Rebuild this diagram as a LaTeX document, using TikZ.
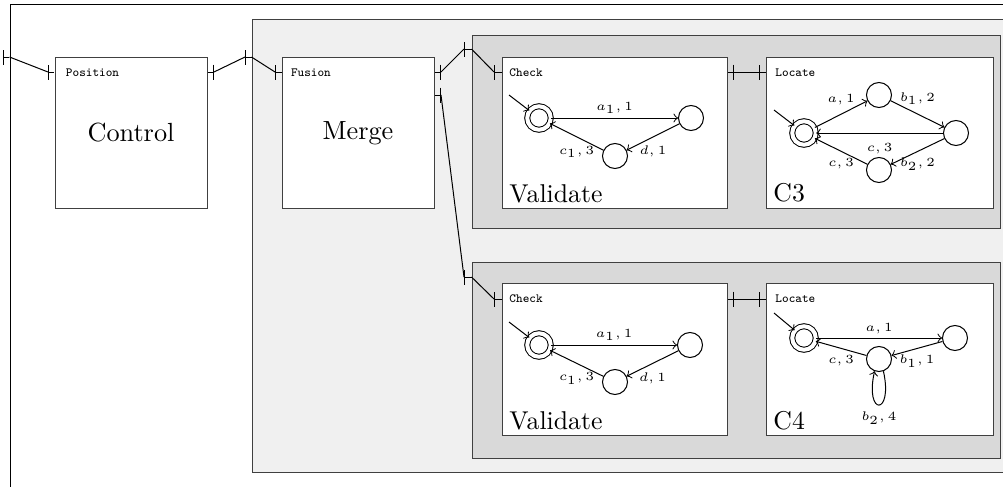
\documentclass[tikz,border=0pt]{standalone}
\usepackage{amsmath}
\usepackage{tikz}
\usepackage{xcolor}
\usetikzlibrary{calc,fit,arrows.meta}
\definecolor{lightshade}{HTML}{F0F0F0}
\definecolor{darkshade}{HTML}{D9D9D9}
\colorlet{edgecolor}{black!75}
\tikzstyle{shell} = [
    draw=black,
    fill=white,
    inner sep=0pt
    ]
\tikzstyle{fusionbox} = [
    draw=edgecolor,
    fill=lightshade,
    inner sep=0pt
    ]
\tikzstyle{groupbox} = [
    draw=edgecolor,
    fill=darkshade,
    inner sep=0pt
    ]
\tikzstyle{block} = [
    draw=edgecolor,
    fill=white,
    inner sep=0pt
    ]
\tikzstyle{title} = [
    font=\fontsize{10.5}{12}\selectfont,
    inner sep=0pt
    ]
\tikzstyle{tag} = [
    font=\tiny\ttfamily,
    anchor=west,
    inner sep=0pt
    ]
\tikzstyle{caption} = [
    font=\fontsize{10.3}{12}\selectfont,
    anchor=base west,
    inner sep=0pt
    ]
\tikzstyle{loc} = [
    circle,
    draw,
    minimum size=10pt,
    inner sep=0pt
    ]
\tikzstyle{locgoal} = [
    loc,
    double,
    double distance=1.6pt,
    minimum size=9.4pt
    ]
\tikzstyle{lbl} = [
    font=\tiny,
    inner sep=1.5pt
    ]
\tikzstyle{stub} = [{Bar[width=6pt]}-]

\begin{document}
\begin{tikzpicture}[x=0.4pt,y=-0.4pt,>=to]
\useasboundingbox (0,0) rectangle (1003,487);
\clip (0,0) rectangle (1003,487);

% containers
\node [shell, fit={(10,4) (1040,520)}] (outer) {};
\node [fusionbox, fit={(252,19) (1040,472)}] (fusion) {};
\node [groupbox, fit={(472,35) (1000,228)}] (groupA) {};
\node [groupbox, fit={(472,262) (1000,458)}] (groupB) {};

% blocks
\node [block, fit={(55,57) (207,208)}] (control) {};
\node [block, fit={(282,57) (434,208)}] (merge) {};
\node [block, fit={(502,57) (727,208)}] (checkA) {};
\node [block, fit={(766,57) (993,208)}] (locateA) {};
\node [block, fit={(502,283) (727,435)}] (checkB) {};
\node [block, fit={(766,283) (993,435)}] (locateB) {};

\node [title] (controltext) at (131,133) {Control};
\node [title] (mergetext) at (358,133) {Merge};

\node [tag] (controltag) at ([shift={(4.4pt,-6.4pt)}]control.north west) {Position};
\node [tag] (mergetag) at ([shift={(3.6pt,-6.4pt)}]merge.north west) {Fusion};
\node [tag] (checkAtag) at ([shift={(3pt,-6.4pt)}]checkA.north west) {Check};
\node [tag] (locateAtag) at ([shift={(3.8pt,-6.4pt)}]locateA.north west) {Locate};
\node [tag] (checkBtag) at ([shift={(3pt,-6.4pt)}]checkB.north west) {Check};
\node [tag] (locateBtag) at ([shift={(3.8pt,-6.4pt)}]locateB.north west) {Locate};

\node [caption] (checkAcap) at ([shift={(3pt,2.6pt)}]checkA.south west) {Validate};
\node [caption] (locateAcap) at ([shift={(3pt,3pt)}]locateA.south west) {C3};
\node [caption] (checkBcap) at ([shift={(3pt,2.6pt)}]checkB.south west) {Validate};
\node [caption] (locateBcap) at ([shift={(3pt,2.6pt)}]locateB.south west) {C4};

% ports
\coordinate (outerin) at (3,57);
\coordinate (controlin) at (48,72);
\coordinate (controlout) at (214,72);
\coordinate (fusionin) at (245,57);
\coordinate (mergein) at (275,72);
\coordinate (mergeoutA) at (441,72);
\coordinate (mergeoutB) at (441,95);
\coordinate (groupAin) at (464,49);
\coordinate (groupBin) at (464,277);
\coordinate (checkAin) at (494,72);
\coordinate (checkBin) at (494,299);
\coordinate (checkAout) at (734,72);
\coordinate (checkBout) at (734,299);
\coordinate (locateAin) at (759,72);
\coordinate (locateBin) at (759,299);

\draw [stub] (outerin) -- (outer.west |- outerin);
\draw [stub] (controlin) -- (control.west |- controlin);
\draw [stub] (controlout) -- (control.east |- controlout);
\draw [stub] (fusionin) -- (fusion.west |- fusionin);
\draw [stub] (mergein) -- (merge.west |- mergein);
\draw [stub] (mergeoutA) -- (merge.east |- mergeoutA);
\draw [stub] (mergeoutB) -- (merge.east |- mergeoutB);
\draw [stub] (groupAin) -- (groupA.west |- groupAin);
\draw [stub] (groupBin) -- (groupB.west |- groupBin);
\draw [stub] (checkAin) -- (checkA.west |- checkAin);
\draw [stub] (checkBin) -- (checkB.west |- checkBin);
\draw [stub] (checkAout) -- (checkA.east |- checkAout);
\draw [stub] (checkBout) -- (checkB.east |- checkBout);
\draw [stub] (locateAin) -- (locateA.west |- locateAin);
\draw [stub] (locateBin) -- (locateB.west |- locateBin);

% links
\draw (outer.west |- outerin) -- (controlin);
\draw (controlout) -- (fusionin);
\draw (fusion.west |- fusionin) -- (mergein);
\draw (mergeoutA) -- (groupAin);
\draw (mergeoutB) -- (groupBin);
\draw (groupA.west |- groupAin) -- (checkAin);
\draw (groupB.west |- groupBin) -- (checkBin);
\draw (checkAout) -- (locateAin);
\draw (checkBout) -- (locateBin);

% Validate, upper
\node [locgoal] (va) at (539,118) {};
\node [loc] (vb) at (691,118) {};
\node [loc] (vc) at (615,156) {};
\coordinate (vstart) at (509,95);
\draw [->] (vstart) -- (va);
\draw [->] (va) -- node [lbl, above] {$a_1, 1$} (vb);
\draw [->] (vb) -- node [lbl, below=2pt] {$d, 1$} (vc);
\draw [->] (vc) -- node [lbl, below=2pt] {$c_1, 3$} (va);

% C3
\node [locgoal] (ca) at (804,133) {};
\node [loc] (cb) at (879,95) {};
\node [loc] (cc) at (956,133) {};
\node [loc] (cd) at (879,170) {};
\coordinate (cstart) at (774,110);
\draw [->] (cstart) -- (ca);
\draw [->] (ca) -- node [lbl, above=2pt] {$a, 1$} (cb);
\draw [->] (cb) -- node [lbl, above=2pt] {$b_1, 2$} (cc);
\draw [->] (cc) -- node [lbl, below=2.5pt] {$c, 3$} (ca);
\draw [->] (cc) -- node [lbl, below=1pt] {$b_2, 2$} (cd);
\draw [->] (cd) -- node [lbl, below=1pt] {$c, 3$} (ca);

% Validate, lower
\node [locgoal] (wa) at (539,345) {};
\node [loc] (wb) at (690,345) {};
\node [loc] (wc) at (615,382) {};
\coordinate (wstart) at (509,322);
\draw [->] (wstart) -- (wa);
\draw [->] (wa) -- node [lbl, above] {$a_1, 1$} (wb);
\draw [->] (wb) -- node [lbl, below=2pt] {$d, 1$} (wc);
\draw [->] (wc) -- node [lbl, below=2pt] {$c_1, 3$} (wa);

% C4
\node [locgoal] (da) at (804,338) {};
\node [loc] (db) at (955,338) {};
\node [loc] (dc) at (879,359) {};
\coordinate (dstart) at (774,313);
\draw [->] (dstart) -- (da);
\draw [->] (da) -- node [lbl, above] {$a, 1$} (db);
\draw [->] (db) -- node [lbl, below=1pt] {$b_1, 1$} (dc);
\draw [->] (dc) -- node [lbl, below=1pt] {$c, 3$} (da);
\draw [->] (dc.-70) .. controls +(10,45) and +(-10,45) .. node [lbl, below=1pt] {$b_2, 4$} (dc.-110);
\end{tikzpicture}
\end{document}
